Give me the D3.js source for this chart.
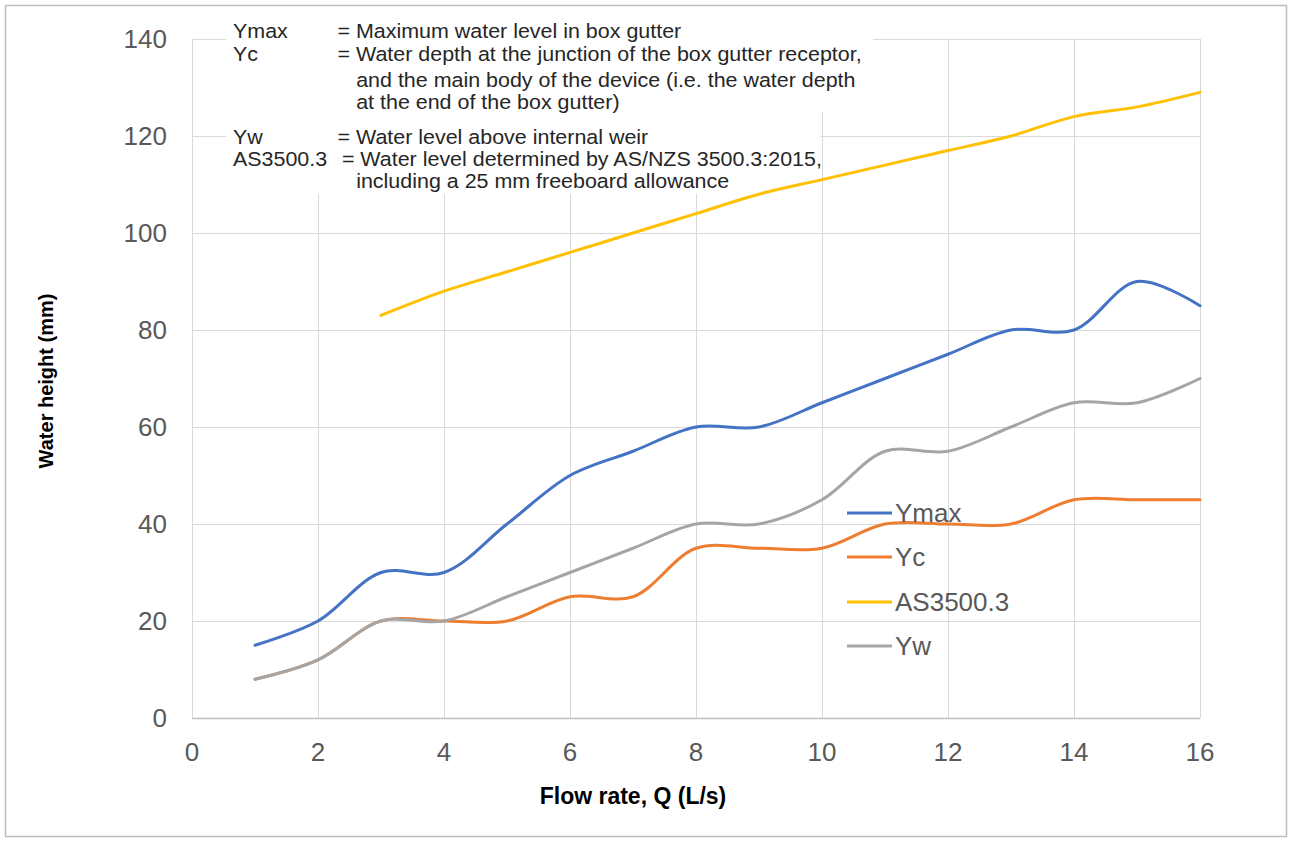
<!DOCTYPE html>
<html>
<head>
<meta charset="utf-8">
<script src="https://cdn.jsdelivr.net/npm/d3@7/dist/d3.min.js"></script>
<style>
    body { margin: 0; background: #fff; }
    svg text { font-family: "Liberation Sans", Arial, sans-serif; }
</style>
</head>
<body>
<svg id="chart" width="1290" height="841"></svg>
<script>
var flow = [1, 2, 3, 4, 5, 6, 7, 8, 9, 10, 11, 12, 13, 14, 15, 16];
var ymax = [15, 20, 30, 30, 40, 50, 55, 60, 60, 65, 70, 75, 80, 80, 90, 85];
var yc = [8, 12, 20, 20, 20, 25, 25, 35, 35, 35, 40, 40, 40, 45, 45, 45];
var as3500 = [null, null, 83, 88, 92, 96, 100, 104, 108, 111, 114, 117, 120, 124, 126, 129];
var yw = [8, 12, 20, 20, 25, 30, 35, 40, 40, 45, 55, 55, 60, 65, 65, 70];

var xTicks = [0, 2, 4, 6, 8, 10, 12, 14, 16];
var yTicks = [0, 20, 40, 60, 80, 100, 120, 140];

var seriesNames = ['Ymax', 'Yc', 'AS3500.3', 'Yw'];
var seriesValues = [ymax, yc, as3500, yw];
var seriesColors = ['#4472C4', '#ED7D31', '#FFC000', '#A5A5A5'];

var notes = [
    ['Ymax', '= Maximum water level in box gutter'],
    ['Yc', '= Water depth at the junction of the box gutter receptor,'],
    ['', 'and the main body of the device (i.e. the water depth'],
    ['', 'at the end of the box gutter)'],
    ['Yw', '= Water level above internal weir'],
    ['AS3500.3', '= Water level determined by AS/NZS 3500.3:2015,'],
    ['', 'including a 25 mm freeboard allowance']
];
var noteBaselines = [38, 61, 87, 109, 144, 166, 188];

var svg = d3.select('#chart');

var x = d3.scaleLinear().domain([0, 16]).range([192, 1200]);
var y = d3.scaleLinear().domain([0, 140]).range([718, 39]);

// outer frame
svg.append('rect')
    .attr('x', 5.5).attr('y', 5.5)
    .attr('width', 1281).attr('height', 831)
    .attr('fill', '#fff')
    .attr('stroke', '#bdbdbd')
    .attr('stroke-width', 1.5);

var grid = svg.append('g');

grid.selectAll('.hgrid').data(yTicks.filter(function(d) { return d > 0; }))
    .enter().append('line')
    .attr('x1', x(0)).attr('x2', x(16))
    .attr('y1', function(d) { return y(d) + 0.5; })
    .attr('y2', function(d) { return y(d) + 0.5; })
    .attr('stroke', '#d9d9d9').attr('stroke-width', 1);

grid.selectAll('.vgrid').data(xTicks)
    .enter().append('line')
    .attr('x1', function(d) { return x(d) + 0.5; })
    .attr('x2', function(d) { return x(d) + 0.5; })
    .attr('y1', y(140)).attr('y2', y(0))
    .attr('stroke', '#d9d9d9').attr('stroke-width', 1);

// bottom axis line
svg.append('line')
    .attr('x1', x(0)).attr('x2', x(16))
    .attr('y1', y(0) + 0.5).attr('y2', y(0) + 0.5)
    .attr('stroke', '#bfbfbf').attr('stroke-width', 1.5);

// annotation box hides the grid under it
svg.append('rect').attr('x', 226).attr('y', 12).attr('width', 647).attr('height', 100).attr('fill', '#fff');
svg.append('rect').attr('x', 226).attr('y', 112).attr('width', 594).attr('height', 82).attr('fill', '#fff');

// text is a bit wider than the font, so stretch it sideways
var noteG = svg.append('g')
    .attr('transform', 'translate(233,0) scale(1.1,1)')
    .attr('fill', '#262626')
    .style('font-size', '19.5px');
notes.forEach(function(n, i) {
    if (n[0]) {
        noteG.append('text').attr('x', 0).attr('y', noteBaselines[i]).text(n[0]);
    }
    noteG.append('text')
        .attr('x', n[0] ? (n[0] === 'AS3500.3' ? 99 : 95) : 112)
        .attr('y', noteBaselines[i])
        .text(n[1]);
});

// tick labels
svg.append('g').selectAll('text').data(yTicks)
    .enter().append('text')
    .attr('x', 167)
    .attr('y', function(d) { return y(d); })
    .attr('dy', '0.36em')
    .attr('text-anchor', 'end')
    .attr('fill', '#595959')
    .style('font-size', '26px')
    .text(function(d) { return d; });

svg.append('g').selectAll('text').data(xTicks)
    .enter().append('text')
    .attr('x', function(d) { return x(d); })
    .attr('y', 761)
    .attr('text-anchor', 'middle')
    .attr('fill', '#595959')
    .style('font-size', '26px')
    .text(function(d) { return d; });

// axis titles
svg.append('text')
    .attr('x', 633).attr('y', 804)
    .attr('text-anchor', 'middle')
    .attr('font-weight', 'bold')
    .attr('fill', '#000')
    .style('font-size', '23px')
    .text('Flow rate, Q (L/s)');

svg.append('text')
    .attr('transform', 'translate(53,381) rotate(-90)')
    .attr('text-anchor', 'middle')
    .attr('font-weight', 'bold')
    .attr('fill', '#000')
    .style('font-size', '20px')
    .text('Water height (mm)');

// series
var line = d3.line()
    .x(function(d) { return x(d[0]); })
    .y(function(d) { return y(d[1]); })
    .curve(d3.curveCatmullRom.alpha(0.5));

var lines = svg.append('g');
seriesValues.forEach(function(vals, i) {
    var pts = flow.map(function(f, j) { return [f, vals[j]]; })
        .filter(function(p) { return p[1] !== null; });
    lines.append('path')
        .attr('d', line(pts))
        .attr('fill', 'none')
        .attr('stroke', seriesColors[i])
        .attr('stroke-width', 3)
        .attr('stroke-linejoin', 'round')
        .attr('stroke-linecap', 'round');
});

// legend
var legend = svg.append('g');
var legendY = [513, 557, 602, 646];
seriesNames.forEach(function(name, i) {
    legend.append('line')
        .attr('x1', 847).attr('x2', 892)
        .attr('y1', legendY[i]).attr('y2', legendY[i])
        .attr('stroke', seriesColors[i])
        .attr('stroke-width', 3);
    legend.append('text')
        .attr('x', 895).attr('y', legendY[i])
        .attr('dy', '0.36em')
        .attr('fill', '#595959')
        .style('font-size', '26px')
        .text(name);
});
</script>
</body>
</html>
